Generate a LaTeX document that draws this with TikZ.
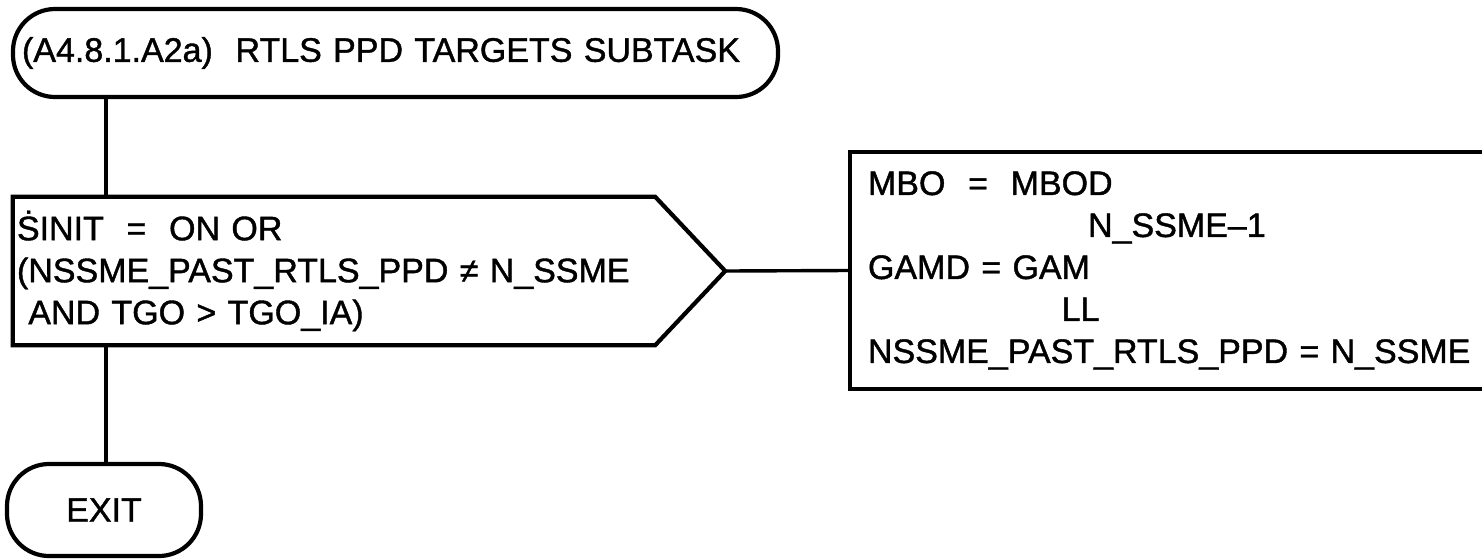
\documentclass[tikz,border=0pt]{standalone}
\usepackage{fontspec}
\setmainfont{Liberation Sans}[FakeBold=1.2]
\usetikzlibrary{calc}
\tikzset{
  terminal/.style={draw, line width=4.2pt, rounded corners=42pt, inner ysep=0pt},
  procbox/.style={draw, line width=4pt, inner ysep=0pt, align=left},
  flowline/.style={line width=3.4pt},
}
\begin{document}
\begin{tikzpicture}[x=1pt, y=-1pt, font=\fontsize{34}{42}\selectfont]
  \useasboundingbox (0,0) rectangle (1482,558);
  \coordinate (spine) at (106,0);
  \node[terminal, minimum width=765pt, minimum height=88pt, inner xsep=9pt, text width=747pt, align=left] (start) at (395.5,53) {(A4.8.1.A2a)\ \ RTLS PPD TARGETS SUBTASK};
  \node[minimum width=642pt, minimum height=148pt, inner xsep=4pt, text width=634pt, align=left] (cond) at (334,271)
    {\.{S}INIT\ \ =\ \ ON\ OR\\
     (NSSME\_PAST\_RTLS\_PPD ≠ N\_SSME\\
     \ AND TGO > TGO\_IA)};
  \coordinate (tip) at ($(cond.east)+(70,0)$);
  \draw[line width=4.2pt, line join=miter] (cond.north west) -- (cond.north east) -- (tip) -- (cond.south east) -- (cond.south west) -- cycle;
  \node[procbox, minimum width=645pt, minimum height=237pt, inner xsep=18pt, text width=609pt] (assign) at (1172.5,270.5)
    {MBO\ \ =\ \ MBOD\\
     \phantom{MBO\ \ =\ \ MBO}N\_SSME\textendash1\\
     GAMD = GAM\\
     \phantom{GAMD = GA}LL\\
     NSSME\_PAST\_RTLS\_PPD = N\_SSME};
  \node[terminal, minimum width=194pt, minimum height=92pt] (exit) at (104,510) {EXIT};
  \draw[flowline] (start.south -| spine) -- (cond.north -| spine);
  \draw[flowline] (tip) -- (assign.west);
  \draw[flowline] (cond.south -| spine) -- (exit.north -| spine);
\end{tikzpicture}
\end{document}
